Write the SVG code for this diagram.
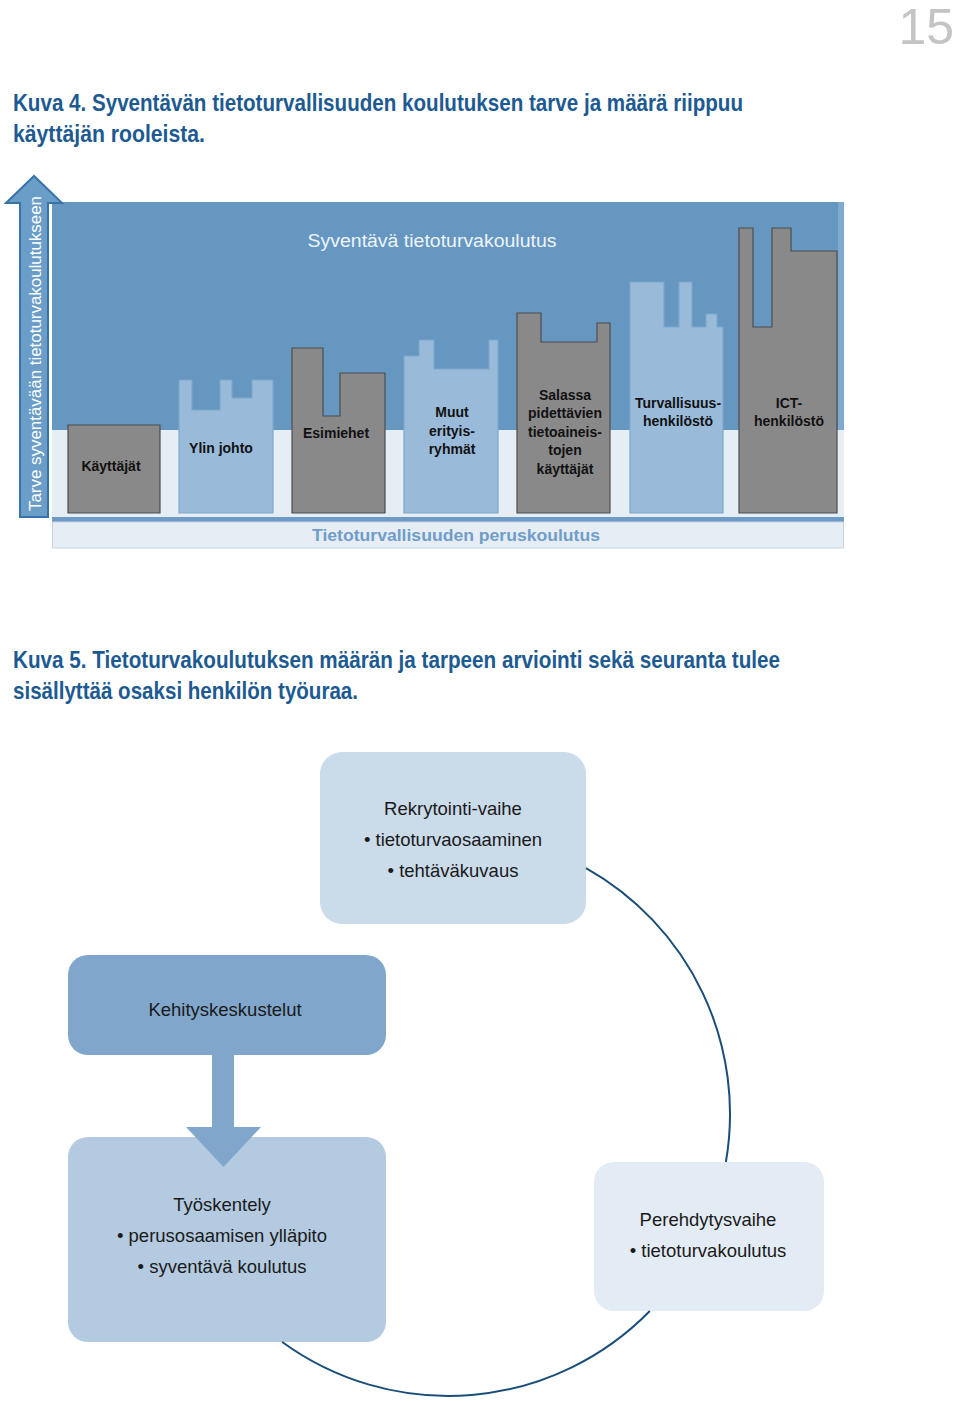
<svg xmlns="http://www.w3.org/2000/svg" width="960" height="1401" viewBox="0 0 960 1401">
<style>
.title{font-family:"Liberation Sans",Arial,sans-serif;font-weight:bold;font-size:24px;fill:#1d5a92}
.lbl{font-family:"Liberation Sans",Arial,sans-serif;font-weight:bold;font-size:14px;fill:#111;text-anchor:middle}
.gray{fill:#898989;stroke:#4d4d4d;stroke-width:1.2}
.lblue{fill:#99bbd9;stroke:#7ea7cc;stroke-width:1.2}
.box{font-family:"Liberation Sans",Arial,sans-serif;font-size:18.5px;fill:#1a1a1a;text-anchor:middle}
.arc{fill:none;stroke:#1a4e7a;stroke-width:2}
</style>
<rect width="960" height="1401" fill="#fff"/>
<text x="954" y="44" text-anchor="end" font-family="Liberation Sans,Arial,sans-serif" font-size="50" fill="#c4c4c4">15</text>

<g id="title4">
<text class="title" x="13" y="111" textLength="730" lengthAdjust="spacingAndGlyphs">Kuva 4. Syventävän tietoturvallisuuden koulutuksen tarve ja määrä riippuu</text>
<text class="title" x="13" y="142" textLength="192" lengthAdjust="spacingAndGlyphs">käyttäjän rooleista.</text>
</g>

<g id="chart">
<rect x="52" y="202" width="792" height="228" fill="#6597c1"/>
<rect x="52" y="430" width="792" height="87" fill="#e5edf5"/>
<rect x="52" y="517" width="792" height="5" fill="#6d9bc5"/>
<rect x="52.5" y="522" width="791" height="26" fill="#e6edf5" stroke="#c5d6e6" stroke-width="1"/>
<rect x="838" y="202" width="6" height="228" fill="#7fa9cf"/>
<text x="432" y="247" text-anchor="middle" font-family="Liberation Sans,Arial,sans-serif" font-size="18" fill="#eef4fa" textLength="249" lengthAdjust="spacingAndGlyphs">Syventävä tietoturvakoulutus</text>
<text x="456" y="541" text-anchor="middle" font-family="Liberation Sans,Arial,sans-serif" font-weight="bold" font-size="17" fill="#6f9dc8" textLength="288" lengthAdjust="spacingAndGlyphs">Tietoturvallisuuden peruskoulutus</text>
</g>

<g id="need-arrow">
<path d="M20 517 V203 H6 L34 176 L62 203 H48 V517 Z" fill="#6a9dc8" stroke="#3873a8" stroke-width="2" stroke-linejoin="miter"/>
<text transform="translate(41 511) rotate(-90)" font-family="Liberation Sans,Arial,sans-serif" font-size="17" fill="#fff" textLength="315" lengthAdjust="spacingAndGlyphs">Tarve syventävään tietoturvakoulutukseen</text>
</g>

<g id="kayttajat">
<path class="gray" d="M68 513 V425 H160 V513 Z"/>
<text class="lbl" x="111" y="471">Käyttäjät</text>
</g>
<g id="ylin-johto">
<path class="lblue" d="M179 513 V380 H192 V410 H220 V380 H232 V398 H252 V380 H273 V513 Z"/>
<text class="lbl" x="221" y="453">Ylin johto</text>
</g>
<g id="esimiehet">
<path class="gray" d="M292 513 V348 H323 V416 H340 V373 H385 V513 Z"/>
<text class="lbl" x="336" y="438">Esimiehet</text>
</g>
<g id="muut">
<path class="lblue" d="M404 513 V356 H419 V340 H434 V369 H489 V340 H498 V513 Z"/>
<text class="lbl" x="452" y="417">Muut</text>
<text class="lbl" x="452" y="436">erityis-</text>
<text class="lbl" x="452" y="454">ryhmät</text>
</g>
<g id="salassa">
<path class="gray" d="M517 513 V313 H541 V342 H597 V323 H610 V513 Z"/>
<text class="lbl" x="565" y="400">Salassa</text>
<text class="lbl" x="565" y="418">pidettävien</text>
<text class="lbl" x="565" y="437">tietoaineis-</text>
<text class="lbl" x="565" y="455">tojen</text>
<text class="lbl" x="565" y="474">käyttäjät</text>
</g>
<g id="turvallisuus">
<path class="lblue" d="M630 513 V282 H664 V327 H679 V282 H692 V327 H706 V314 H717 V327 H723 V513 Z"/>
<text class="lbl" x="678" y="408">Turvallisuus-</text>
<text class="lbl" x="678" y="426">henkilöstö</text>
</g>
<g id="ict">
<path class="gray" d="M739 513 V228 H753 V327 H772 V228 H791 V251 H837 V513 Z"/>
<text class="lbl" x="789" y="408">ICT-</text>
<text class="lbl" x="789" y="426">henkilöstö</text>
</g>

<g id="title5">
<text class="title" x="13" y="668" textLength="767" lengthAdjust="spacingAndGlyphs">Kuva 5. Tietoturvakoulutuksen määrän ja tarpeen arviointi sekä seuranta tulee</text>
<text class="title" x="13" y="699" textLength="345" lengthAdjust="spacingAndGlyphs">sisällyttää osaksi henkilön työuraa.</text>
</g>

<g id="rekrytointi">
<rect x="320" y="752" width="266" height="172" rx="22" fill="#cadbea"/>
<text class="box" x="453" y="815">Rekrytointi-vaihe</text>
<text class="box" x="453" y="846">• tietoturvaosaaminen</text>
<text class="box" x="453" y="877">• tehtäväkuvaus</text>
</g>
<g id="kehityskeskustelut">
<rect x="68" y="955" width="318" height="100" rx="20" fill="#80a7cb"/>
<text class="box" x="225" y="1016">Kehityskeskustelut</text>
</g>
<g id="tyoskentely">
<rect x="68" y="1137" width="318" height="205" rx="20" fill="#b3cae0"/>
<text class="box" x="222" y="1211">Työskentely</text>
<text class="box" x="222" y="1242">• perusosaamisen ylläpito</text>
<text class="box" x="222" y="1273">• syventävä koulutus</text>
</g>
<g id="perehdytys">
<rect x="594" y="1162" width="230" height="149" rx="20" fill="#e3ebf4"/>
<text class="box" x="708" y="1226">Perehdytysvaihe</text>
<text class="box" x="708" y="1257">• tietoturvakoulutus</text>
</g>

<g id="connectors">
<path class="arc" d="M586 868.1 A282 282 0 0 1 725.9 1162"/>
<path class="arc" d="M649.8 1311 A282 282 0 0 1 282.2 1342"/>
<path d="M212 1054 H234 V1127 H261 L223.5 1167 L186 1127 H212 Z" fill="#80a7cb"/>
</g>
</svg>
